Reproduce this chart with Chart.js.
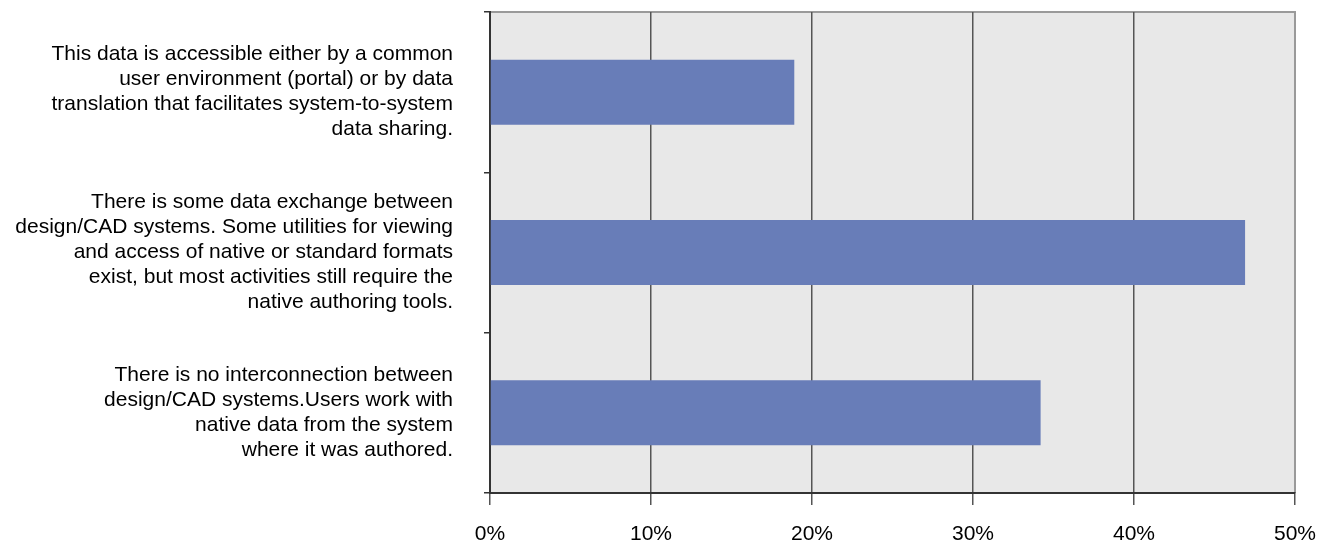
<!DOCTYPE html>
<html>
<head>
<meta charset="utf-8">
<script src="https://cdn.jsdelivr.net/npm/chart.js@4"></script>
<style>
  html, body { margin: 0; padding: 0; background: #fff; }
  #wrap { width: 1333px; height: 549px; }
</style>
</head>
<body>
<div id="wrap"><canvas id="chart" width="1333" height="549"></canvas></div>
<script>
// category labels (split into lines as in the original)
const categories = [
    ['This data is accessible either by a common', 'user environment (portal) or by data', 'translation that facilitates system-to-system', 'data sharing.'],
    ['There is some data exchange between', 'design/CAD systems. Some utilities for viewing', 'and access of native or standard formats', 'exist, but most activities still require the', 'native authoring tools.'],
    ['There is no interconnection between', 'design/CAD systems.Users work with', 'native data from the system', 'where it was authored.']
];
const shares = [18.9, 46.9, 34.2];
const xTicks = [0, 10, 20, 30, 40, 50];

// plot background + light frame on top/right
const plotFrame = {
    id: 'plotFrame',
    beforeDraw(chart) {
        const { ctx, chartArea: a } = chart;
        ctx.save();
        ctx.fillStyle = '#e8e8e8';
        ctx.fillRect(a.left, a.top, a.right - a.left, a.bottom - a.top);
        ctx.strokeStyle = '#9a9a9a';
        ctx.lineWidth = 2;
        ctx.beginPath();
        ctx.moveTo(a.left, a.top);
        ctx.lineTo(a.right, a.top);
        ctx.lineTo(a.right, a.bottom);
        ctx.stroke();
        ctx.restore();
    }
};

function initChart() {
    const ctx = document.getElementById('chart');

    new Chart(ctx, {
        type: 'bar',
        data: {
            labels: categories,
            datasets: [{
                data: shares,
                backgroundColor: '#687db8',
                borderWidth: 0,
                categoryPercentage: 1,
                barPercentage: 0.405
            }]
        },
        options: {
            indexAxis: 'y',
            responsive: false,
            animation: false,
            layout: { padding: { top: 12, right: 38, left: 0, bottom: 0 } },
            scales: {
                x: {
                    min: 0,
                    max: 50,
                    afterBuildTicks(scale) {
                        scale.ticks = xTicks.map(v => ({ value: v }));
                    },
                    afterFit(scale) { scale.height = 56; },
                    grid: {
                        color: c => (c.tick && c.tick.value === 50) ? '#9a9a9a' : '#555555',
                        tickColor: '#555555',
                        lineWidth: 1.5,
                        tickLength: 12
                    },
                    border: { color: '#333333', width: 2 },
                    ticks: {
                        padding: 17,
                        color: '#000',
                        font: { family: 'Liberation Sans', size: 21 },
                        callback: v => v + '%'
                    }
                },
                y: {
                    afterFit(scale) {
                        scale.width = 490;
                        scale.paddingTop = 0;
                        scale.paddingBottom = 0;
                    },
                    grid: {
                        offset: true,
                        drawOnChartArea: false,
                        color: '#333333',
                        lineWidth: 1.5,
                        tickLength: 6
                    },
                    border: { color: '#333333', width: 2 },
                    ticks: {
                        padding: 31,
                        color: '#000',
                        font: { family: 'Liberation Sans', size: 21, lineHeight: 25 / 21 }
                    }
                }
            },
            plugins: {
                legend: { display: false },
                tooltip: { enabled: false }
            }
        },
        plugins: [plotFrame]
    });
}

document.addEventListener('DOMContentLoaded', function() {
    initChart();
});
</script>
</body>
</html>
